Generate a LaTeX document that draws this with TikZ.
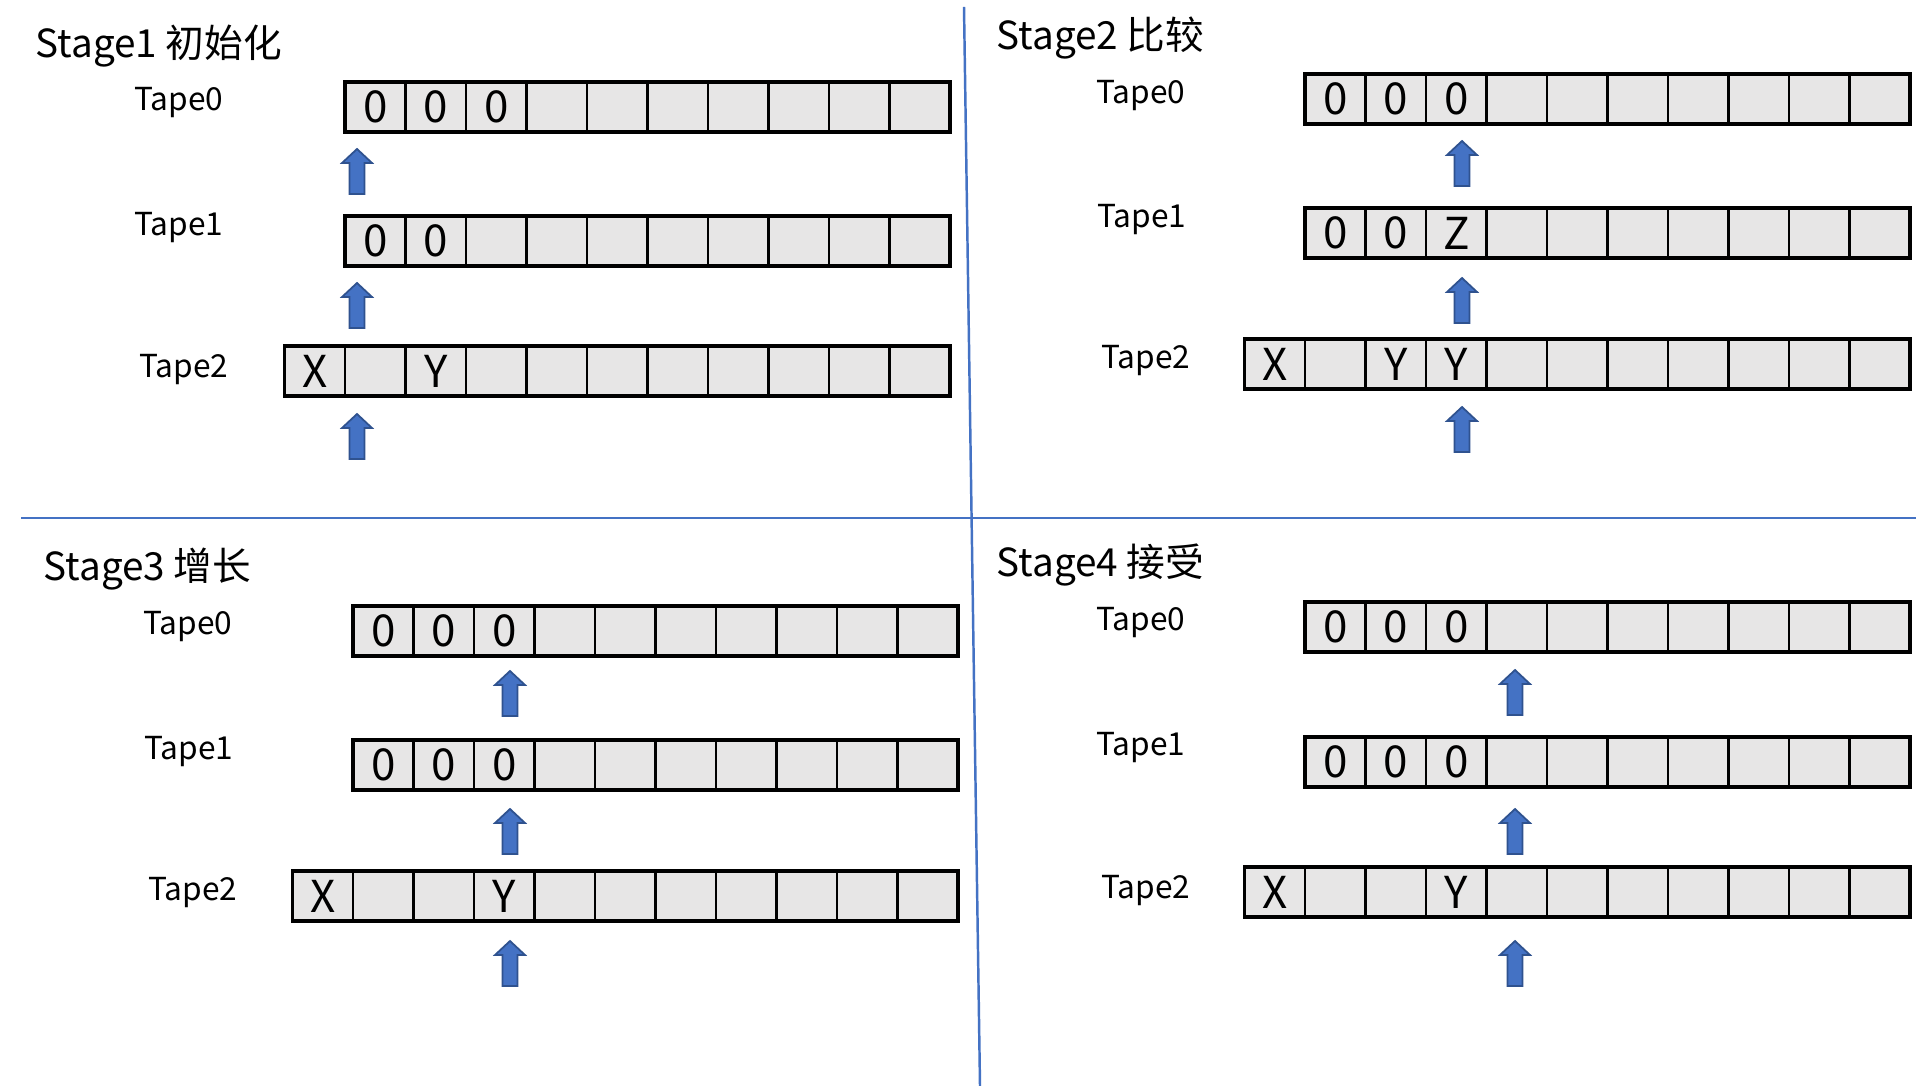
\documentclass[tikz,border=0pt]{standalone}
\usepackage{fontspec}
\setmainfont{Noto Sans CJK SC}
\usepackage{tikz}
\usetikzlibrary{positioning}

\definecolor{cellgray}{HTML}{E7E6E6}
\definecolor{headblue}{HTML}{4472C4}
\definecolor{headedge}{HTML}{2F528F}

\tikzset{
  cell/.style={draw=black, line width=0.6pt, fill=cellgray, anchor=north west,
    minimum width=0.605cm, minimum height=0.5cm, inner sep=0pt, outer sep=0pt},
  frame/.style={draw=black, line width=1pt},
  sym/.style={font=\fontsize{12.5}{14}\selectfont, inner sep=0pt},
  tapelabel/.style={font=\fontsize{9}{11}\selectfont},
  title/.style={font=\fontsize{11}{14}\selectfont, anchor=west, inner sep=0pt},
  divider/.style={draw=headblue, line width=0.7pt},
  uparr/.pic={
    \draw[fill=headblue, draw=headedge, line width=0.5pt]
      (-7.5,0) -- (-7.5,-31) -- (-15,-31) -- (0,-45) -- (15,-31)
      -- (7.5,-31) -- (7.5,0) -- cycle;
  }
}

% one tape: name, left x, top y, number of cells, cell/symbol list
\newcommand{\tape}[5]{%
  \foreach \i in {1,...,#4}
    \node[cell] (#1-\i) at ({#2+60.5*(\i-1)},#3) {};
  \draw[frame] (#1-1.north west) rectangle (#1-#4.south east);
  \foreach \i/\s in {#5}
    \node[sym] (#1-s\i) at (#1-\i) {\s};
}

\begin{document}
\begin{tikzpicture}[x=0.01cm, y=-0.01cm]
  \fill[white] (0,0) rectangle (1930,1086);
  \useasboundingbox (0,0) rectangle (1930,1086);

  % dividers
  \draw[divider] (964,7) -- (980,1086);
  \draw[divider] (21,518) -- (1916,518);

  % Stage1
  \node[title] (st1) at (35,46) {Stage1 初始化};
  \node[tapelabel] (st1l0) at (179,103) {Tape0};
  \node[tapelabel] (st1l1) at (179,228) {Tape1};
  \node[tapelabel] (st1l2) at (184,370) {Tape2};
  \tape{st1a}{345}{82}{10}{1/0,2/0,3/0}
  \tape{st1b}{345}{216}{10}{1/0,2/0}
  \tape{st1c}{284.5}{346}{11}{1/X,3/Y}
  \pic at (357,194) {uparr};
  \pic at (357,328) {uparr};
  \pic at (357,459) {uparr};

  % Stage2
  \node[title] (st2) at (996,38) {Stage2 比较};
  \node[tapelabel] (st2l0) at (1141,96) {Tape0};
  \node[tapelabel] (st2l1) at (1142,220) {Tape1};
  \node[tapelabel] (st2l2) at (1146,361) {Tape2};
  \tape{st2a}{1305}{74}{10}{1/0,2/0,3/0}
  \tape{st2b}{1305}{208}{10}{1/0,2/0,3/Z}
  \tape{st2c}{1244.5}{339}{11}{1/X,3/Y,4/Y}
  \pic at (1462,186) {uparr};
  \pic at (1462,323) {uparr};
  \pic at (1462,452) {uparr};

  % Stage3
  \node[title] (st3) at (43,569) {Stage3 增长};
  \node[tapelabel] (st3l0) at (188,627) {Tape0};
  \node[tapelabel] (st3l1) at (189,752) {Tape1};
  \node[tapelabel] (st3l2) at (193,893) {Tape2};
  \tape{st3a}{353}{606}{10}{1/0,2/0,3/0}
  \tape{st3b}{353}{740}{10}{1/0,2/0,3/0}
  \tape{st3c}{292.5}{871}{11}{1/X,4/Y}
  \pic at (510,716) {uparr};
  \pic at (510,854) {uparr};
  \pic at (510,986) {uparr};

  % Stage4
  \node[title] (st4) at (996,565) {Stage4 接受};
  \node[tapelabel] (st4l0) at (1141,623) {Tape0};
  \node[tapelabel] (st4l1) at (1141,748) {Tape1};
  \node[tapelabel] (st4l2) at (1146,891) {Tape2};
  \tape{st4a}{1305}{602}{10}{1/0,2/0,3/0}
  \tape{st4b}{1305}{737}{10}{1/0,2/0,3/0}
  \tape{st4c}{1244.5}{867}{11}{1/X,4/Y}
  \pic at (1515,715) {uparr};
  \pic at (1515,854) {uparr};
  \pic at (1515,986) {uparr};
\end{tikzpicture}
\end{document}
